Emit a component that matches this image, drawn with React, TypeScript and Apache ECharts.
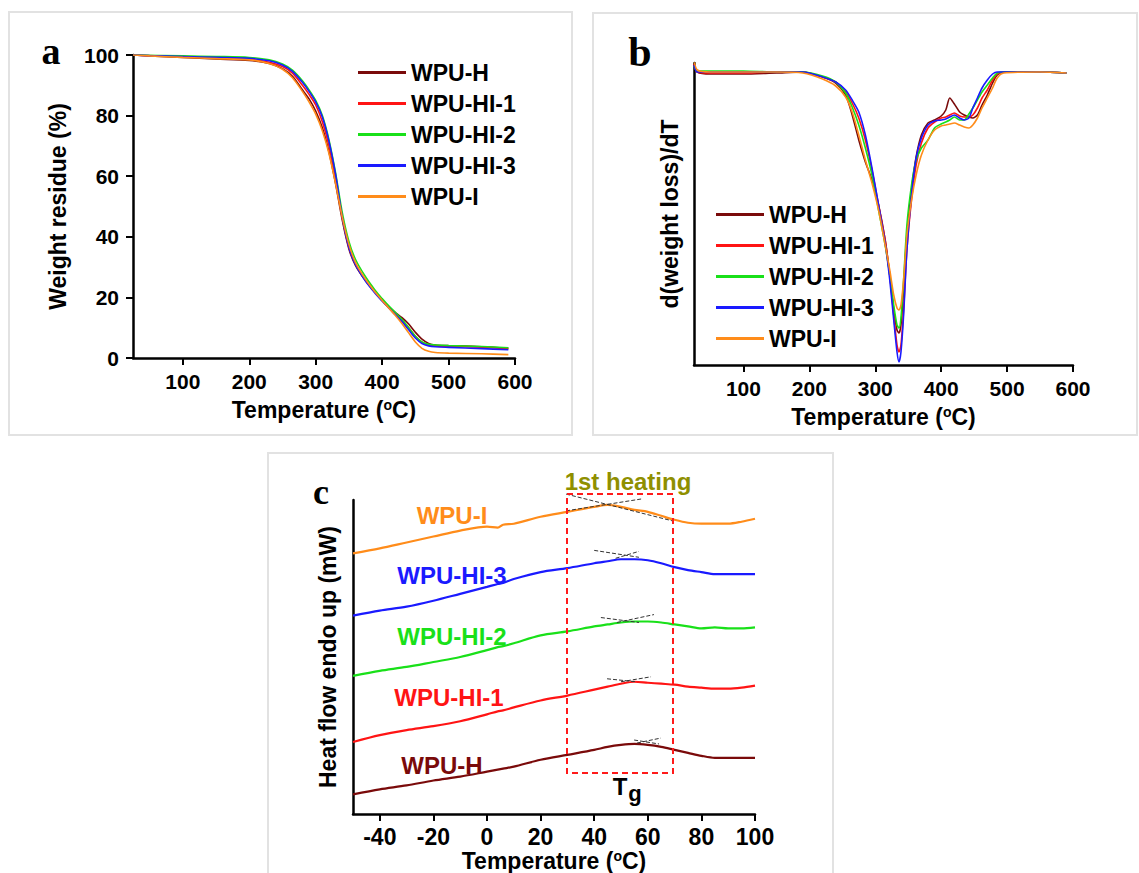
import React, { useEffect, useRef } from "react";
import * as echarts from "echarts";

const FONT = '"Liberation Sans", Arial, sans-serif';
const SERIF = '"Liberation Serif", "Times New Roman", serif';

const NAMES = ["WPU-H", "WPU-HI-1", "WPU-HI-2", "WPU-HI-3", "WPU-I"];
const COLORS = ["#7a0a0a", "#ff1414", "#19e019", "#1a1aff", "#ff8c1a"];

// ---------- Panel a : TGA (weight residue %) ----------
const tgaTemps = [25, 50, 100, 150, 200, 230, 250, 265, 280, 290, 300, 310, 320, 330, 340, 350, 360, 375, 390, 400, 410, 420, 430, 440, 450, 460, 470, 480, 500, 550, 590];
const tgaH = [100, 99.7, 99.2, 98.7, 98.2, 97.2, 95.5, 93, 88.5, 85.5, 81.5, 76, 68, 57.5, 45.5, 36, 30.5, 25.5, 21.5, 19, 16.8, 15, 13.3, 11.2, 8.5, 6.2, 4.8, 4.3, 4.1, 3.7, 3.2];
const tgaHI1 = [100, 99.8, 99.4, 99.0, 98.6, 97.6, 96.2, 94, 90, 87, 83.5, 78, 70, 59, 46.5, 36.5, 31, 25.7, 21.5, 19, 16.6, 14.5, 12.4, 10, 7.2, 5.2, 4.3, 4.0, 3.9, 3.6, 3.1];
const tgaHI2 = [100, 99.9, 99.7, 99.5, 99.2, 98.4, 97, 95, 91.5, 88.5, 85, 80, 72, 61, 48, 38.5, 32.5, 26.8, 22.2, 19.6, 17.2, 15, 12.7, 10, 7.2, 5.3, 4.5, 4.3, 4.1, 3.8, 3.4];
const tgaHI3 = [100, 99.8, 99.5, 99.2, 98.9, 98.1, 96.7, 94.6, 91, 88, 84.5, 79.5, 71.5, 60.5, 46.5, 36.5, 30.8, 25.4, 21.2, 18.8, 16.5, 14.3, 12, 9.3, 6.6, 4.8, 4, 3.7, 3.5, 3.1, 2.7];
const tgaI = [100, 99.7, 99.2, 98.8, 98.4, 97.2, 95.3, 92.5, 88, 84.5, 80.5, 75, 67.5, 57.5, 46.5, 37.5, 31.5, 26, 21.6, 19, 16.5, 14, 11.3, 8.3, 5.3, 3.2, 2.2, 1.8, 1.6, 1.4, 1.1];

// ---------- Panel b : DTG (a.u.) ----------
const dtgTemps = [25, 30, 50, 100, 150, 190, 220, 240, 255, 265, 275, 285, 295, 305, 315, 322, 328, 333, 336, 339, 343, 348, 355, 362, 370, 380, 390, 400, 407, 413, 420, 428, 435, 442, 448, 455, 462, 470, 478, 485, 495, 550, 590];
const dtgH = [8, 0, -2, -2, -1, 0, -5, -11, -23, -43, -68, -90, -108, -133, -168, -203, -238, -258, -261, -253, -218, -163, -118, -85, -63, -51, -48, -44, -38, -26, -32, -40, -43, -45, -46, -43, -33, -23, -11, -3, 0, 0, -1];
const dtgHI1 = [8, 0, -1, -1, 0, 0, -5, -10, -20, -31, -46, -68, -98, -133, -168, -203, -243, -273, -280, -273, -238, -178, -128, -93, -71, -56, -50, -46, -45, -43, -41, -44, -45, -45, -43, -36, -26, -18, -8, -2, 0, 0, -1];
const dtgHI2 = [6, 1, 1, 1, 0, 0, -4, -10, -21, -35, -53, -76, -103, -138, -173, -203, -233, -253, -256, -246, -208, -153, -113, -88, -76, -68, -56, -52, -50, -48, -45, -48, -48, -42, -36, -28, -20, -13, -6, -1, 0, 0, -1];
const dtgHI3 = [7, 0, 0, 0, 0, 0, -5, -10, -18, -28, -40, -63, -96, -133, -171, -208, -248, -280, -290, -280, -243, -178, -123, -86, -66, -53, -49, -48, -47, -45, -43, -46, -48, -46, -36, -26, -16, -8, -2, 0, 0, 0, -1];
const dtgI = [12, 2, 0, 0, 0, -1, -7, -14, -25, -40, -63, -88, -111, -138, -173, -198, -223, -236, -238, -233, -208, -163, -128, -103, -83, -68, -58, -54, -53, -52, -51, -53, -55, -56, -53, -46, -36, -26, -16, -6, -1, 0, -1];

// ---------- Panel c : DSC heat flow (a.u., curves offset) ----------
const dscTemps = [-50, -40, -30, -20, -10, 0, 4, 6, 10, 20, 30, 40, 45, 50, 55, 60, 65, 70, 75, 80, 85, 90, 95, 100];
const dscH = [20, 25, 29, 34, 38, 43, 45, 46, 48, 55, 60, 65, 68, 70, 71, 70, 68, 65, 62, 59, 57, 57, 57, 57];
const dscHI1 = [73, 80, 85, 89, 94, 101, 104, 105, 108, 115, 120, 126, 129, 132, 134, 133, 132, 131, 129, 128, 127, 127, 128, 130];
const dscHI2 = [140, 145, 149, 154, 159, 166, 169, 170, 173, 181, 185, 190, 192, 194, 195, 195, 194, 192, 190, 188, 189, 188, 188, 189];
const dscHI3 = [201, 206, 210, 216, 223, 230, 233, 234, 238, 245, 249, 254, 256, 258, 258, 257, 254, 250, 247, 245, 243, 243, 243, 243];
const dscI = [264, 269, 275, 281, 287, 291, 290, 293, 294, 301, 306, 311, 313, 311, 308, 306, 302, 298, 295, 294, 294, 294, 296, 299];

// Tangent construction lines (Tg determination), [T, value] pairs
const tangents = [
  [[29.5, 324], [69, 297]],
  [[29.5, 307], [57.5, 319]],
  [[40, 267], [56.7, 260]],
  [[48, 259], [56.7, 266]],
  [[42.5, 199], [56.7, 194]],
  [[48.5, 194], [62.3, 202]],
  [[44.8, 137], [55.6, 134]],
  [[50, 134], [61.2, 139]],
  [[54.9, 75], [64.2, 71]],
  [[56, 72], [64.9, 77]],
];

const tempTicksAB = [100, 200, 300, 400, 500, 600];
const tempTicksC = [-40, -20, 0, 20, 40, 60, 80, 100];

const tgaSets = [tgaH, tgaHI1, tgaHI2, tgaHI3, tgaI];
const dtgSets = [dtgH, dtgHI1, dtgHI2, dtgHI3, dtgI];
const dscSets = [dscH, dscHI1, dscHI2, dscHI3, dscI];

const zip = (xs: number[], ys: number[]) => xs.map((x, i) => [x, ys[i]]);

const nameStyle = (size: number) => ({
  fontSize: size,
  fontWeight: "bold",
  color: "#000",
  fontFamily: FONT,
  rich: {
    s: { fontSize: Math.round(size * 0.62), fontWeight: "bold", color: "#000", fontFamily: FONT, verticalAlign: "top" },
  },
});

const xAxisDef = (gridIndex: number, min: number, max: number, ticks: number[], nameGap: number, margin: number, fontSize: number) => ({
  type: "value",
  gridIndex,
  min,
  max,
  axisLine: { show: true, onZero: false, lineStyle: { color: "#000", width: 2.5 } },
  axisTick: { show: true, inside: false, length: 7, lineStyle: { color: "#000", width: 2 }, customValues: ticks },
  axisLabel: { show: true, customValues: ticks, margin, fontSize, fontWeight: "bold", color: "#000", fontFamily: FONT },
  splitLine: { show: false },
  name: "Temperature ({s|o}C)",
  nameLocation: "middle",
  nameGap,
  nameTextStyle: nameStyle(23),
});

export default function App() {
  const ref = useRef<HTMLDivElement>(null);

  useEffect(() => {
    if (!ref.current) return;
    const chart = echarts.init(ref.current, undefined, { renderer: "svg" });

    const series: any[] = [];
    NAMES.forEach((n, i) => {
      series.push({
        name: n, type: "line", xAxisIndex: 0, yAxisIndex: 0, data: zip(tgaTemps, tgaSets[i]),
        showSymbol: false, symbol: "none", smooth: 0.3,
        lineStyle: { color: COLORS[i], width: 1.6 }, itemStyle: { color: COLORS[i] },
      });
    });
    NAMES.forEach((n, i) => {
      series.push({
        name: n, type: "line", xAxisIndex: 1, yAxisIndex: 1, data: zip(dtgTemps, dtgSets[i]),
        showSymbol: false, symbol: "none", smooth: 0.25,
        lineStyle: { color: COLORS[i], width: 1.6 }, itemStyle: { color: COLORS[i] },
      });
    });
    NAMES.forEach((n, i) => {
      series.push({
        name: n, type: "line", xAxisIndex: 2, yAxisIndex: 2, data: zip(dscTemps, dscSets[i]),
        showSymbol: false, symbol: "none", smooth: 0.3,
        lineStyle: { color: COLORS[i], width: 2.2 }, itemStyle: { color: COLORS[i] },
      });
    });
    tangents.forEach((seg) => {
      series.push({
        type: "line", xAxisIndex: 2, yAxisIndex: 2, data: seg, clip: false,
        showSymbol: false, symbol: "none", silent: true,
        lineStyle: { color: "#333", width: 1, type: [4, 2] }, z: 5,
      });
    });

    const legendBase = {
      data: NAMES,
      orient: "vertical",
      icon: "rect",
      itemWidth: 48,
      itemHeight: 3,
      itemGap: 0,
      selectedMode: false,
      textStyle: { fontSize: 23, fontWeight: "bold", color: "#000", fontFamily: FONT, lineHeight: 31 },
    };

    const frame = (x: number, y: number, w: number, h: number) => ({
      type: "rect", shape: { x, y, width: w, height: h },
      style: { fill: "none", stroke: "#e2e2e2", lineWidth: 2 }, silent: true, z: 0,
    });
    const txt = (text: string, x: number, y: number, font: string, fill: string) => ({
      type: "text", x, y, silent: true, z: 10,
      style: { text, font, fill, align: "center", verticalAlign: "middle" },
    });

    chart.setOption({
      animation: false,
      backgroundColor: "#fff",
      grid: [
        { left: 133, top: 55, width: 382, height: 303 },
        { left: 694, top: 63, width: 379, height: 302 },
        { left: 353, top: 500, width: 402, height: 318 },
      ],
      xAxis: [
        xAxisDef(0, 25, 600, tempTicksAB, 40, 13, 21),
        xAxisDef(1, 25, 600, tempTicksAB, 40, 13, 21),
        xAxisDef(2, -50, 100, tempTicksC, 33, 11, 23),
      ],
      yAxis: [
        {
          type: "value", gridIndex: 0, min: 0, max: 100, interval: 20,
          axisLine: { show: true, onZero: false, lineStyle: { color: "#000", width: 2.5 } },
          axisTick: { show: true, inside: false, length: 7, lineStyle: { color: "#000", width: 2 } },
          axisLabel: { margin: 14, fontSize: 21, fontWeight: "bold", color: "#000", fontFamily: FONT },
          splitLine: { show: false },
          name: "Weight residue (%)", nameLocation: "middle", nameGap: 64, nameTextStyle: nameStyle(23),
        },
        {
          type: "value", gridIndex: 1, min: -293, max: 9,
          axisLine: { show: true, onZero: false, lineStyle: { color: "#000", width: 2.5 } },
          axisTick: { show: false }, axisLabel: { show: false }, splitLine: { show: false },
          name: "d(weight loss)/dT", nameLocation: "middle", nameGap: 13, nameTextStyle: nameStyle(23),
        },
        {
          type: "value", gridIndex: 2, min: 0, max: 318,
          axisLine: { show: true, onZero: false, lineStyle: { color: "#000", width: 2.5 } },
          axisTick: { show: false }, axisLabel: { show: false }, splitLine: { show: false },
          name: "Heat flow endo up (mW)", nameLocation: "middle", nameGap: 14, nameTextStyle: nameStyle(23),
        },
      ],
      legend: [
        { ...legendBase, left: 353, top: 52 },
        { ...legendBase, left: 711, top: 194 },
      ],
      graphic: [
        frame(9, 12, 563, 423),
        frame(593, 13, 544, 422),
        frame(268, 453, 565, 430),
        txt("a", 51, 51, `bold 38px ${SERIF}`, "#000"),
        txt("b", 640, 52, `bold 42px ${SERIF}`, "#000"),
        txt("c", 321, 492, `bold 36px ${SERIF}`, "#000"),
        {
          type: "rect", shape: { x: 567, y: 494, width: 106, height: 279 }, silent: true, z: 6,
          style: { fill: "none", stroke: "#ff1a1a", lineWidth: 2, lineDash: [6, 4] },
        },
        txt("1st heating", 628, 481, `bold 24px ${FONT}`, "#8f8f00"),
        txt("WPU-I", 452, 515, `bold 24px ${FONT}`, COLORS[4]),
        txt("WPU-HI-3", 452, 575, `bold 24px ${FONT}`, COLORS[3]),
        txt("WPU-HI-2", 452, 636, `bold 24px ${FONT}`, COLORS[2]),
        txt("WPU-HI-1", 449, 697, `bold 24px ${FONT}`, COLORS[1]),
        txt("WPU-H", 442, 765, `bold 24px ${FONT}`, COLORS[0]),
        txt("T", 620, 786, `bold 24px ${FONT}`, "#000"),
        txt("g", 635, 793, `bold 22px ${FONT}`, "#000"),
      ],
      series,
    });

    return () => chart.dispose();
  }, []);

  return (
    <div
      ref={ref}
      style={{ position: "fixed", left: 0, top: 0, width: 1139, height: 873, background: "#fff" }}
    />
  );
}
